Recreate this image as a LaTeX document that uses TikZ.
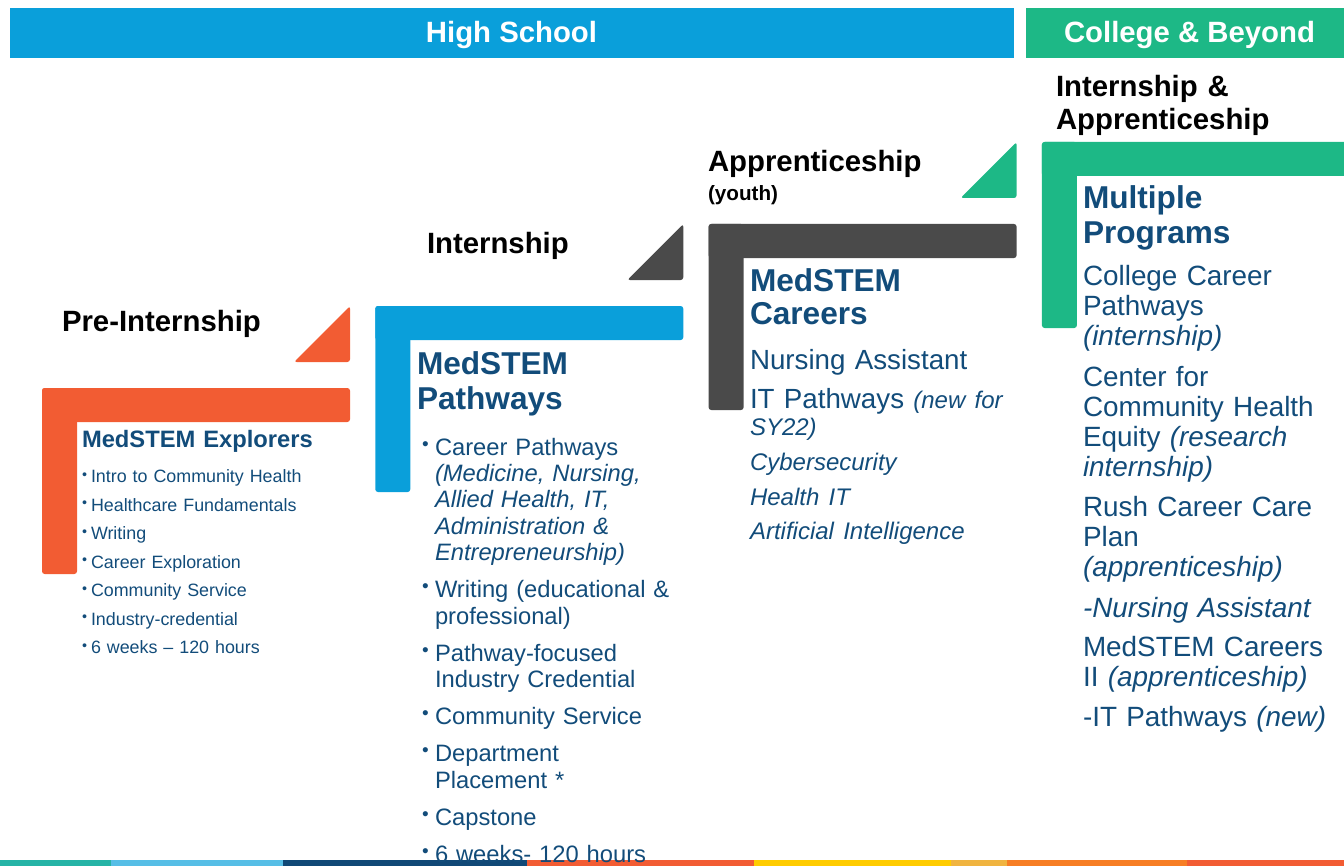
\documentclass[tikz,border=0pt]{standalone}
\usepackage{fontspec}
\setmainfont{Liberation Sans}

\definecolor{hsblue}{RGB}{10,159,218}
\definecolor{cbgreen}{RGB}{29,184,134}
\definecolor{preorange}{RGB}{242,92,51}
\definecolor{appgray}{RGB}{74,74,74}
\definecolor{navy}{RGB}{18,76,122}
\definecolor{stripteal}{RGB}{38,180,166}
\definecolor{striplight}{RGB}{86,190,230}
\definecolor{stripnavy}{RGB}{16,72,118}
\definecolor{stripyellow}{RGB}{255,204,0}
\definecolor{stripsand}{RGB}{240,180,64}
\definecolor{stripamber}{RGB}{247,126,36}

\newcommand{\fs}[2]{\fontsize{#1}{#2}\selectfont}
\newcommand{\bul}[1]{\makebox[#1][l]{\raisebox{.2em}{\scalebox{.8}{•}}}}
\newcommand{\eit}[1]{\noindent\bul{6.75pt}#1\par}
\newcommand{\pit}[1]{\hangindent=9.75pt\hangafter=1\noindent\bul{9.75pt}#1\par}

\begin{document}
\begin{tikzpicture}[x=0.75pt,y=-0.75pt,
 every node/.style={inner sep=0pt,outer sep=0pt,anchor=base west},
 head/.style={text=white,font=\fs{22}{24}\bfseries,anchor=base},
 stage/.style={font=\fs{22}{24.75}\bfseries,text width=250pt,align=left},
 title/.style={text=navy,text width=220pt,align=left},
 body/.style={text=navy,text width=220pt,align=left}]

  \useasboundingbox (0,0) rectangle (1344,866);

  % header bars
  \fill[hsblue] (10,8) rectangle (1014,58);
  \fill[cbgreen] (1026,8) rectangle (1344,58);
  \node[head] (hs) at (511.5,43) {High School};
  \node[head] (cb) at (1189.5,43) {College \& Beyond};

  % steps
  \foreach \i/\c in {0/preorange,1/hsblue,2/appgray,3/cbgreen}
  {\coordinate (L\i) at (42+333.3*\i,388-82*\i);
   \fill[\c,rounded corners=2] (L\i) rectangle ++(308,34);
   \fill[\c,rounded corners=2] (L\i) rectangle ++(35,186);
  }
  \foreach \i/\c in {0/preorange,1/appgray,2/cbgreen}
  {\fill[\c,rounded corners=2] ([shift={(252,-26)}]L\i) -- ++(56,-56)
    -- ++(0,56) -- cycle;
  }

  % bottom strip
  \foreach \a/\b/\c in {0/111/stripteal,111/283/striplight,283/527/stripnavy,
    527/754/preorange,754/951/stripyellow,951/1007/stripsand,
    1007/1187/stripamber,1187/1344/preorange}
  {\fill[\c] (\a,860) rectangle (\b,866);}

  % stage labels
  \node[stage] (pre) at (62,331) {Pre-Internship};
  \node[stage] (intern) at (427,253) {Internship};
  \node[stage] (appr) at (708,171.5) {Apprenticeship};
  \node[stage,font=\fs{15.5}{17}\bfseries] (youth) at (708,200) {(youth)};
  \node[stage] (intappr) at (1056,96.7) {Internship \&\\Apprenticeship};

  % pre-internship
  \node[title,font=\fs{17.8}{20}\bfseries] (explorers) at (82,447)
   {MedSTEM Explorers};
  \node[body,font=\fs{13.4}{21.4}] (exbody) at (82,482.7)
   {\eit{Intro to Community Health}
    \eit{Healthcare Fundamentals}
    \eit{Writing}
    \eit{Career Exploration}
    \eit{Community Service}
    \eit{Industry-credential}
    \eit{6 weeks – 120 hours}};

  % internship
  \node[title,font=\fs{23.7}{26.25}\bfseries] (pathways) at (417,374)
   {MedSTEM\\Pathways};
  \node[body,font=\fs{17.8}{19.8}] (pwbody) at (422,455)
   {\pit{Career Pathways\newline\textit{(Medicine, Nursing,\newline
     Allied Health, IT,\newline Administration \&\newline
     Entrepreneurship)}}\vspace{8pt}
    \pit{Writing (educational \&\newline professional)}\vspace{8pt}
    \pit{Pathway-focused\newline Industry Credential}\vspace{8pt}
    \pit{Community Service}\vspace{8pt}
    \pit{Department\newline Placement *}\vspace{8pt}
    \pit{Capstone}\vspace{8pt}
    \pit{6 weeks- 120 hours}};

  % apprenticeship
  \node[title,font=\fs{23.7}{24.75}\bfseries] (careers) at (750,291.7)
   {MedSTEM\\Careers};
  \node[body,font=\fs{20.8}{20}] (crbody) at (750,369.3)
   {Nursing Assistant\par\vspace{9.3pt}
    IT Pathways {\fs{18}{20}\itshape(new for\\SY22)}\par\vspace{6.8pt}
    {\fs{18}{20}\itshape Cybersecurity\par}\vspace{5.7pt}
    {\fs{18}{20}\itshape Health IT\par}\vspace{5.7pt}
    {\fs{18}{20}\itshape Artificial Intelligence\par}};

  % college & beyond
  \node[title,font=\fs{23.7}{26.25}\bfseries] (multi) at (1083,208.3)
   {Multiple\\Programs};
  \node[body,font=\fs{20.9}{22.5}] (mpbody) at (1083,285)
   {College Career\\Pathways\\\textit{(internship)}\par\vspace{8.8pt}
    Center for\\Community Health\\Equity \textit{(research\\internship)}\par
    \vspace{7.5pt}
    Rush Career Care\\Plan\\\textit{(apprenticeship)}\par\vspace{7.9pt}
    \textit{-Nursing Assistant}\par\vspace{7pt}
    MedSTEM Careers\\II \textit{(apprenticeship)}\par\vspace{7.5pt}
    -IT Pathways \textit{(new)}};

\end{tikzpicture}
\end{document}
